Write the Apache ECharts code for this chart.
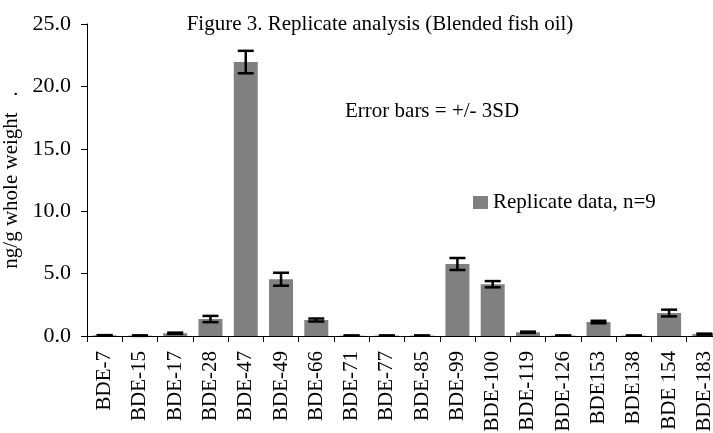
<!DOCTYPE html>
<html><head><meta charset="utf-8">
<script src="https://cdn.jsdelivr.net/npm/echarts@6/dist/echarts.min.js"></script>
<style>html,body{margin:0;padding:0;background:#fff}#c{width:713px;height:433px}</style>
</head><body><div id="c"></div>
<script>
const categories = ['BDE-7','BDE-15','BDE-17','BDE-28','BDE-47','BDE-49','BDE-66','BDE-71','BDE-77','BDE-85','BDE-99','BDE-100','BDE-119','BDE-126','BDE153','BDE138','BDE 154','BDE-183'];
const values = [0.05,0.03,0.22,1.36,21.95,4.55,1.28,0.03,0.03,0.03,5.77,4.15,0.3,0.03,1.12,0.03,1.84,0.15];
const errors = [0.02,0.02,0.05,0.25,0.9,0.52,0.12,0.01,0.01,0.01,0.48,0.25,0.05,0.01,0.1,0.01,0.27,0.04];
const yTicks = {min:0, max:25, interval:5};

const font = '"Liberation Serif","Times New Roman",serif';
const chart = echarts.init(document.getElementById('c'));
const errData = values.map((v,i)=>[i, v-errors[i], v+errors[i]]);
chart.setOption({
  animation:false,
  backgroundColor:'#fff',
  title:{text:'Figure 3. Replicate analysis (Blended fish oil)', left:375, top:9, textAlign:'center',
    textStyle:{fontFamily:font, fontSize:21, fontWeight:'normal', color:'#000'}},
  graphic:[{type:'text', left:345, top:101, style:{text:'Error bars = +/- 3SD', font:'21px '+font, fill:'#000'}}],
  legend:{data:['Replicate data, n=9'], left:468, top:187, icon:'rect', itemWidth:15, itemHeight:13, itemGap:5,
    textStyle:{fontFamily:font, fontSize:21, color:'#000'}},
  grid:{left:87, top:24, width:635, height:312, containLabel:false, outerBoundsMode:'none'},
  xAxis:{type:'category', data:categories,
    axisLine:{lineStyle:{color:'#000', width:1}},
    axisTick:{show:true, alignWithLabel:false, length:6, lineStyle:{color:'#000'}},
    axisLabel:{rotate:90, interval:0, margin:15, fontFamily:font, fontSize:21, color:'#000'}},
  yAxis:{type:'value', min:yTicks.min, max:yTicks.max, interval:yTicks.interval,
    name:'ng/g whole weight   .', nameLocation:'middle', nameGap:59, nameRotate:90,
    nameTextStyle:{fontFamily:font, fontSize:21, color:'#000'},
    axisLine:{show:true, lineStyle:{color:'#000', width:1}},
    axisTick:{show:true, length:6, lineStyle:{color:'#000'}},
    splitLine:{show:false},
    axisLabel:{margin:16, fontFamily:font, fontSize:22, color:'#000', formatter:v=>v.toFixed(1)}},
  series:[
    {name:'Replicate data, n=9', type:'bar', data:values, barCategoryGap:'32%',
      itemStyle:{color:'#808080'}},
    {type:'custom', data:errData, z:10,
      renderItem:(params, api)=>{
        const x = api.value(0);
        const lo = api.coord([x, api.value(1)]);
        const hi = api.coord([x, api.value(2)]);
        const w = 8;
        const st = {stroke:'#000', lineWidth:2.5};
        return {type:'group', children:[
          {type:'line', shape:{x1:lo[0], y1:lo[1], x2:hi[0], y2:hi[1]}, style:st},
          {type:'line', shape:{x1:lo[0]-w, y1:lo[1], x2:lo[0]+w, y2:lo[1]}, style:st},
          {type:'line', shape:{x1:hi[0]-w, y1:hi[1], x2:hi[0]+w, y2:hi[1]}, style:st}
        ]};
      }}
  ]
});
</script></body></html>
